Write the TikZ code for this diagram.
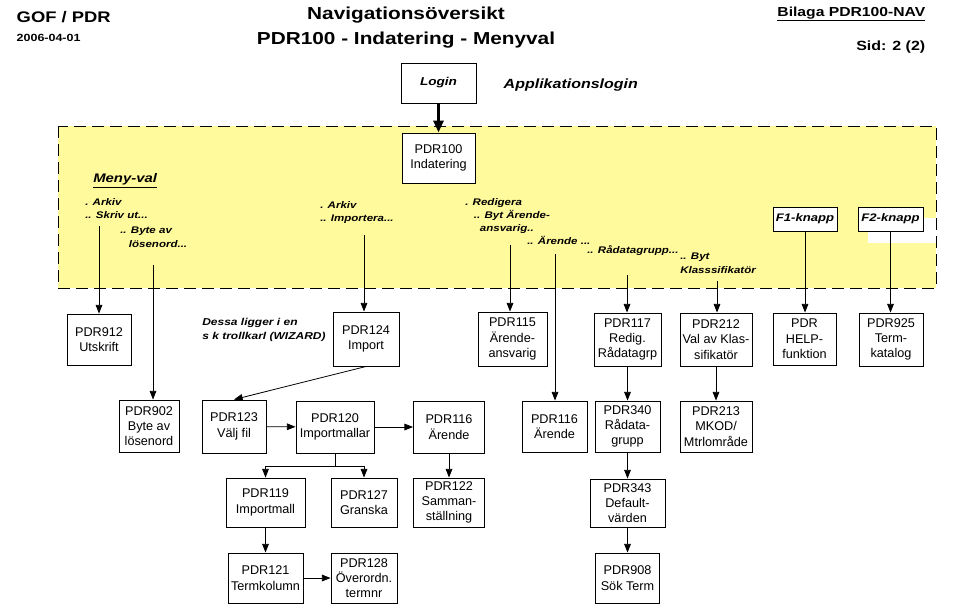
\documentclass[tikz,border=0pt]{standalone}
\usepackage{fontspec}
\setmainfont{Liberation Sans}
\newfontfamily\headfont[FakeStretch=1.2]{Liberation Sans}
\usetikzlibrary{arrows.meta}
\definecolor{menuyellow}{RGB}{255,250,155}

\begin{document}
\begin{tikzpicture}[x=0.75pt, y=-0.75pt,
  box/.style 2 args={draw, fill=white, line width=0.7pt, inner sep=0pt, align=center,
    font=\fontsize{9.5}{11.5}\selectfont, minimum width=#1*0.75pt, minimum height=#2*0.75pt},
  knapp/.style={draw, fill=white, line width=0.7pt, inner sep=0pt,
    font=\headfont\fontsize{8.2}{10}\selectfont\bfseries\itshape, minimum width=#1*0.75pt, minimum height=18pt},
  menu/.style={font=\headfont\fontsize{7.2}{10}\selectfont\bfseries\itshape, align=left, inner sep=0pt, anchor=north west},
  arr/.style={line width=0.6pt, -{Triangle[length=6.5pt, width=5pt]}},
]
\fill[white] (0,0) rectangle (956,604);
% menu area
\fill[menuyellow] (58,126) rectangle (936,288);
\fill[white] (868,218) rectangle (936,243);
\draw[line width=0.75pt, dash pattern=on 9pt off 4.5pt] (58,126) rectangle (936,288);

% header
\node[anchor=west, font=\headfont\fontsize{11.5}{13}\selectfont\bfseries] (gof) at (12,17) {GOF / PDR};
\node[anchor=west, font=\headfont\fontsize{7.8}{9}\selectfont\bfseries] (datum) at (12,38) {2006-04-01};
\node[font=\headfont\fontsize{13}{16}\selectfont\bfseries] (titel1) at (406,15) {Navigationsöversikt};
\node[font=\headfont\fontsize{13}{16}\selectfont\bfseries] (titel2) at (406,40) {PDR100 - Indatering - Menyval};
\node[anchor=east, font=\headfont\fontsize{9.8}{12}\selectfont\bfseries] (bilaga) at (930,14) {\underline{Bilaga PDR100-NAV}};
\node[anchor=east, font=\headfont\fontsize{10}{12}\selectfont\bfseries] (sid) at (930,47) {Sid: 2 (2)};

\node[box={75}{40}, font=\headfont\fontsize{8.5}{10}\selectfont\bfseries\itshape] (login) at (438.5,83) {Login};
\node[anchor=west, font=\headfont\fontsize{10}{12}\selectfont\bfseries\itshape] (applogin) at (499,85) {Applikationslogin};
\node[box={73}{50}] (pdr100) at (438.5,158) {PDR100\\Indatering};
\draw[line width=2.5pt, -{Triangle[length=9pt, width=7.5pt]}] (login) -- (pdr100);

% menu texts
\node[menu, font=\headfont\fontsize{9.3}{11}\selectfont\bfseries\itshape, anchor=west] (menyval) at (93,181) {\underline{Meny-val}};
\node[menu] (markiv1) at (85,198) {. Arkiv\\.. Skriv ut...};
\node[menu] (mbyte) at (120,227) {.. Byte av\\\hspace*{6.5pt}lösenord...};
\node[menu] (markiv2) at (320,201) {. Arkiv\\.. Importera...};
\node[menu] (mredig) at (465,198) {. Redigera\\\hspace*{6.5pt}.. Byt Ärende-\\\hspace*{11pt}ansvarig..};
\node[menu] (marende) at (527,236) {.. Ärende ...};
\node[menu] (mradata) at (587,245) {.. Rådatagrupp...};
\node[menu] (mklass) at (680,253) {.. Byt\\Klasssifikatör};
\node[knapp=64] (f1) at (805,219) {F1-knapp};
\node[knapp=65] (f2) at (890.5,219) {F2-knapp};
\node[menu, font=\headfont\fontsize{7.5}{10.5}\selectfont\bfseries\itshape] (wizard) at (202,318) {Dessa ligger i en\\s k trollkarl (WIZARD)};

% first row
\node[box={64}{51}] (pdr912) at (99,339.5) {PDR912\\Utskrift};
\node[box={66}{54}] (pdr124) at (366,339) {PDR124\\Import};
\node[box={69}{54}] (pdr115) at (512.5,339) {PDR115\\Ärende-\\ansvarig};
\node[box={67}{53}] (pdr117) at (627.5,339.5) {PDR117\\Redig.\\Rådatagrp};
\node[box={72}{53}] (pdr212) at (716,339.5) {PDR212\\Val av Klas-\\sifikatör};
\node[box={63}{52}] (pdrhelp) at (804.5,339) {PDR\\HELP-\\funktion};
\node[box={64}{53}] (pdr925) at (891,339.5) {PDR925\\Term-\\katalog};

\coordinate (cskriv) at (99,226);
\coordinate (cbyte) at (153,265);
\coordinate (cimport) at (364,235);
\coordinate (credig) at (510,245);
\coordinate (carende) at (555,254);
\coordinate (cradata) at (627,275);
\coordinate (cklass) at (717,281);

% second row
\node[box={60}{52}] (pdr902) at (149,426) {PDR902\\Byte av\\lösenord};
\node[box={64}{53}] (pdr123) at (234,426.5) {PDR123\\Välj fil};
\node[box={78}{52}] (pdr120) at (335,427) {PDR120\\Importmallar};
\node[box={71}{52}] (pdr116a) at (449,427) {PDR116\\Ärende};
\node[box={65}{51}] (pdr116b) at (554.5,426.5) {PDR116\\Ärende};
\node[box={65}{51}] (pdr340) at (627.5,426.5) {PDR340\\Rådata-\\grupp};
\node[box={72}{51}] (pdr213) at (716,426.5) {PDR213\\MKOD/\\Mtrlområde};

% third row
\node[box={79}{49}] (pdr119) at (265.5,502.5) {PDR119\\Importmall};
\node[box={66}{49}] (pdr127) at (364,502.5) {PDR127\\Granska};
\node[box={71}{49}] (pdr122) at (449,502.5) {PDR122\\Samman-\\ställning};
\node[box={75}{48}] (pdr343) at (627.5,503) {PDR343\\Default-\\värden};

% fourth row
\node[box={75}{50}] (pdr121) at (265.5,578) {PDR121\\Termkolumn};
\node[box={66}{50}] (pdr128) at (364,578) {PDR128\\Överordn.\\termnr};
\node[box={64}{50}] (pdr908) at (627.5,578) {PDR908\\Sök Term};

\coordinate (fork) at (335,466);

% connectors
\draw[arr] (cskriv) -- (cskriv |- pdr912.north);
\draw[arr] (cbyte) -- (cbyte |- pdr902.north);
\draw[arr] (cimport) -- (cimport |- pdr124.north);
\draw[arr] (credig) -- (credig |- pdr115.north);
\draw[arr] (carende) -- (carende |- pdr116b.north);
\draw[arr] (cradata) -- (cradata |- pdr117.north);
\draw[arr] (cklass) -- (cklass |- pdr212.north);
\draw[arr] (f1) -- (f1 |- pdrhelp.north);
\draw[arr] (f2) -- (f2 |- pdr925.north);
\draw[arr] (pdr124.south) -- (pdr123.north);
\draw[arr] (pdr123) -- (pdr120);
\draw[arr] (pdr120) -- (pdr116a);
\draw[line width=0.6pt] (pdr120) -- (fork);
\draw[arr] (fork) -| (pdr119);
\draw[arr] (fork) -| (pdr127);
\draw[arr] (pdr116a) -- (pdr122);
\draw[arr] (pdr119) -- (pdr121);
\draw[arr] (pdr121) -- (pdr128);
\draw[arr] (pdr117) -- (pdr340);
\draw[arr] (pdr340) -- (pdr343);
\draw[arr] (pdr343) -- (pdr908);
\draw[arr] (pdr212) -- (pdr213);
\end{tikzpicture}
\end{document}
